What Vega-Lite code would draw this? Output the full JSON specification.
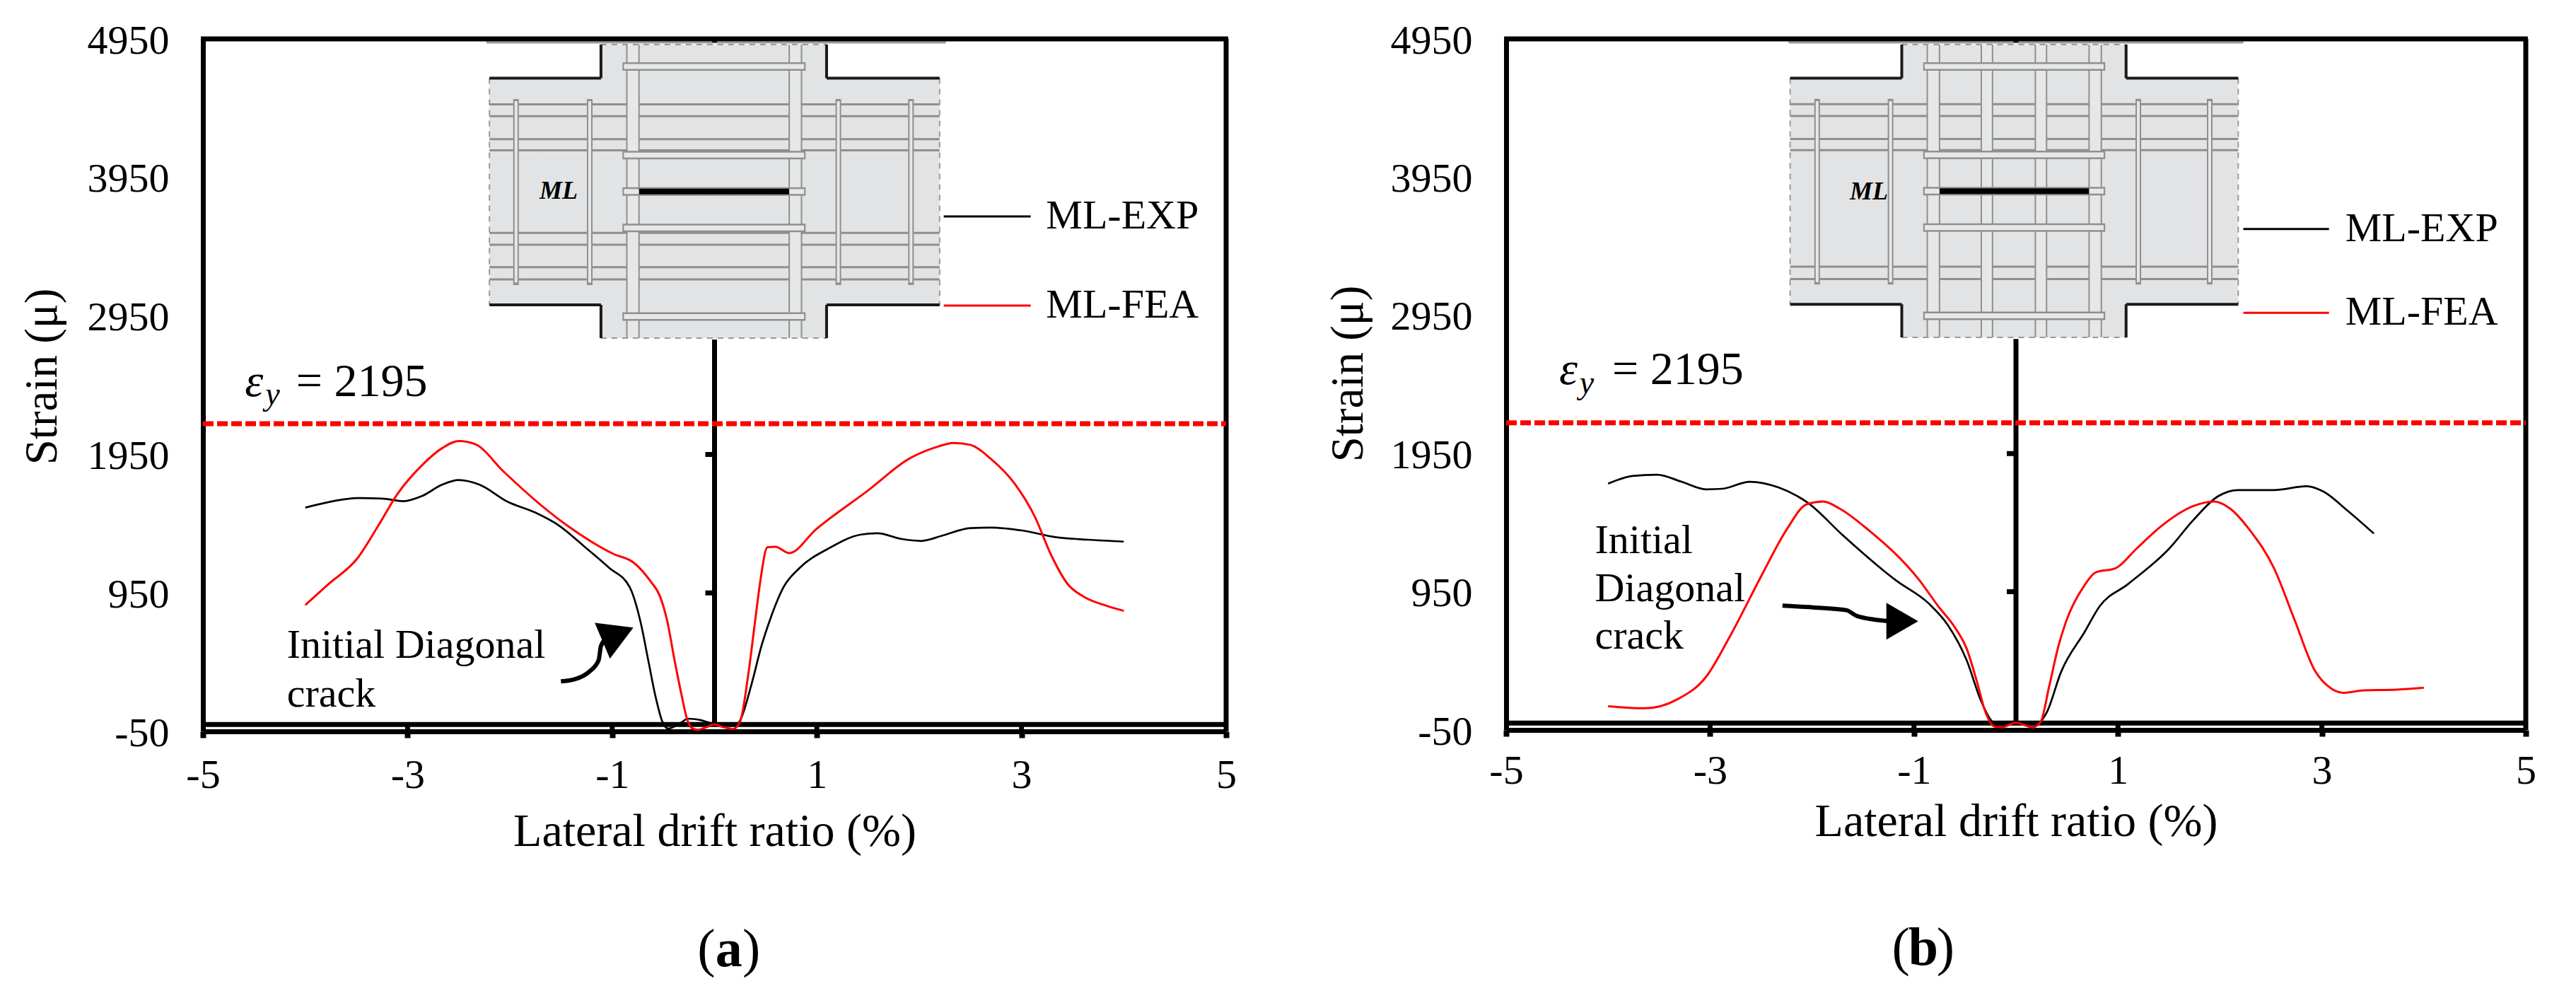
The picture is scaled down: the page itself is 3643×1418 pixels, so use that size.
{
"$schema":"https://vega.github.io/schema/vega-lite/v6.json",
"padding":{"left":27,"top":29,"right":0,"bottom":0},
"background":"white",
"config":{"view":{"stroke":null},"font":"Liberation Serif","axis":{"labelFont":"Liberation Serif","titleFont":"Liberation Serif","labelColor":"black","titleColor":"black","grid":false,"domainColor":"black","tickColor":"black"}},
"datasets":{
"curves":[
{"panel":"a","series":"ML-EXP","x":-4,"y":1566},{"panel":"a","series":"ML-EXP","x":-3.73,"y":1612},{"panel":"a","series":"ML-EXP","x":-3.49,"y":1635},{"panel":"a","series":"ML-EXP","x":-3.25,"y":1631},{"panel":"a","series":"ML-EXP","x":-3.04,"y":1612},{"panel":"a","series":"ML-EXP","x":-2.86,"y":1649},{"panel":"a","series":"ML-EXP","x":-2.66,"y":1732},{"panel":"a","series":"ML-EXP","x":-2.5,"y":1765},{"panel":"a","series":"ML-EXP","x":-2.3,"y":1732},{"panel":"a","series":"ML-EXP","x":-2.02,"y":1607},{"panel":"a","series":"ML-EXP","x":-1.75,"y":1529},{"panel":"a","series":"ML-EXP","x":-1.51,"y":1431},{"panel":"a","series":"ML-EXP","x":-1.27,"y":1283},{"panel":"a","series":"ML-EXP","x":-1.03,"y":1131},{"panel":"a","series":"ML-EXP","x":-0.83,"y":992},{"panel":"a","series":"ML-EXP","x":-0.717,"y":720},{"panel":"a","series":"ML-EXP","x":-0.648,"y":464},{"panel":"a","series":"ML-EXP","x":-0.579,"y":209},{"panel":"a","series":"ML-EXP","x":-0.51,"y":21},{"panel":"a","series":"ML-EXP","x":-0.453,"y":-30},{"panel":"a","series":"ML-EXP","x":-0.328,"y":13},{"panel":"a","series":"ML-EXP","x":-0.259,"y":42},{"panel":"a","series":"ML-EXP","x":-0.142,"y":32},{"panel":"a","series":"ML-EXP","x":-0.017,"y":6},{"panel":"a","series":"ML-EXP","x":0.1,"y":-5},{"panel":"a","series":"ML-EXP","x":0.2,"y":-10},{"panel":"a","series":"ML-EXP","x":0.25,"y":30},{"panel":"a","series":"ML-EXP","x":0.363,"y":294},{"panel":"a","series":"ML-EXP","x":0.459,"y":568},{"panel":"a","series":"ML-EXP","x":0.549,"y":770},{"panel":"a","series":"ML-EXP","x":0.675,"y":992},{"panel":"a","series":"ML-EXP","x":0.833,"y":1131},{"panel":"a","series":"ML-EXP","x":1.11,"y":1269},{"panel":"a","series":"ML-EXP","x":1.43,"y":1371},{"panel":"a","series":"ML-EXP","x":1.59,"y":1381},{"panel":"a","series":"ML-EXP","x":1.83,"y":1339},{"panel":"a","series":"ML-EXP","x":2.02,"y":1325},{"panel":"a","series":"ML-EXP","x":2.22,"y":1362},{"panel":"a","series":"ML-EXP","x":2.5,"y":1418},{"panel":"a","series":"ML-EXP","x":2.7,"y":1422},{"panel":"a","series":"ML-EXP","x":3.02,"y":1399},{"panel":"a","series":"ML-EXP","x":3.33,"y":1353},{"panel":"a","series":"ML-EXP","x":3.65,"y":1334},{"panel":"a","series":"ML-EXP","x":4,"y":1320},
{"panel":"a","series":"ML-FEA","x":-4,"y":862},{"panel":"a","series":"ML-FEA","x":-3.77,"y":1015},{"panel":"a","series":"ML-FEA","x":-3.49,"y":1200},{"panel":"a","series":"ML-FEA","x":-3.29,"y":1431},{"panel":"a","series":"ML-FEA","x":-3.1,"y":1663},{"panel":"a","series":"ML-FEA","x":-2.86,"y":1871},{"panel":"a","series":"ML-FEA","x":-2.66,"y":1996},{"panel":"a","series":"ML-FEA","x":-2.5,"y":2047},{"panel":"a","series":"ML-FEA","x":-2.34,"y":2024},{"panel":"a","series":"ML-FEA","x":-2.06,"y":1825},{"panel":"a","series":"ML-FEA","x":-1.75,"y":1617},{"panel":"a","series":"ML-FEA","x":-1.43,"y":1431},{"panel":"a","series":"ML-FEA","x":-0.99,"y":1232},{"panel":"a","series":"ML-FEA","x":-0.79,"y":1168},{"panel":"a","series":"ML-FEA","x":-0.63,"y":1038},{"panel":"a","series":"ML-FEA","x":-0.533,"y":925},{"panel":"a","series":"ML-FEA","x":-0.464,"y":753},{"panel":"a","series":"ML-FEA","x":-0.395,"y":481},{"panel":"a","series":"ML-FEA","x":-0.326,"y":226},{"panel":"a","series":"ML-FEA","x":-0.268,"y":38},{"panel":"a","series":"ML-FEA","x":-0.224,"y":-25},{"panel":"a","series":"ML-FEA","x":-0.165,"y":-38},{"panel":"a","series":"ML-FEA","x":-0.08,"y":-20},{"panel":"a","series":"ML-FEA","x":-0.003,"y":1},{"panel":"a","series":"ML-FEA","x":0.09,"y":-20},{"panel":"a","series":"ML-FEA","x":0.181,"y":-33},{"panel":"a","series":"ML-FEA","x":0.25,"y":21},{"panel":"a","series":"ML-FEA","x":0.33,"y":362},{"panel":"a","series":"ML-FEA","x":0.389,"y":702},{"panel":"a","series":"ML-FEA","x":0.446,"y":1028},{"panel":"a","series":"ML-FEA","x":0.516,"y":1279},{"panel":"a","series":"ML-FEA","x":0.595,"y":1283},{"panel":"a","series":"ML-FEA","x":0.73,"y":1237},{"panel":"a","series":"ML-FEA","x":0.99,"y":1408},{"panel":"a","series":"ML-FEA","x":1.51,"y":1695},{"panel":"a","series":"ML-FEA","x":1.9,"y":1918},{"panel":"a","series":"ML-FEA","x":2.14,"y":1996},{"panel":"a","series":"ML-FEA","x":2.34,"y":2033},{"panel":"a","series":"ML-FEA","x":2.5,"y":2019},{"panel":"a","series":"ML-FEA","x":2.7,"y":1918},{"panel":"a","series":"ML-FEA","x":2.94,"y":1732},{"panel":"a","series":"ML-FEA","x":3.13,"y":1501},{"panel":"a","series":"ML-FEA","x":3.29,"y":1223},{"panel":"a","series":"ML-FEA","x":3.45,"y":1015},{"panel":"a","series":"ML-FEA","x":3.61,"y":922},{"panel":"a","series":"ML-FEA","x":3.81,"y":862},{"panel":"a","series":"ML-FEA","x":4,"y":820},
{"panel":"a","series":"arrow","x":-1.501,"y":311},{"panel":"a","series":"arrow","x":-1.363,"y":327},{"panel":"a","series":"arrow","x":-1.228,"y":379},{"panel":"a","series":"arrow","x":-1.133,"y":464},{"panel":"a","series":"arrow","x":-1.11,"y":566},{"panel":"a","series":"arrow","x":-1.052,"y":625},
{"panel":"b","series":"ML-EXP","x":-4,"y":1732},{"panel":"b","series":"ML-EXP","x":-3.76,"y":1788},{"panel":"b","series":"ML-EXP","x":-3.52,"y":1797},{"panel":"b","series":"ML-EXP","x":-3.28,"y":1746},{"panel":"b","series":"ML-EXP","x":-3.04,"y":1691},{"panel":"b","series":"ML-EXP","x":-2.88,"y":1695},{"panel":"b","series":"ML-EXP","x":-2.61,"y":1746},{"panel":"b","series":"ML-EXP","x":-2.33,"y":1705},{"panel":"b","series":"ML-EXP","x":-2.05,"y":1598},{"panel":"b","series":"ML-EXP","x":-1.69,"y":1353},{"panel":"b","series":"ML-EXP","x":-1.29,"y":1098},{"panel":"b","series":"ML-EXP","x":-1.178,"y":1033},{"panel":"b","series":"ML-EXP","x":-0.854,"y":864},{"panel":"b","series":"ML-EXP","x":-0.669,"y":710},{"panel":"b","series":"ML-EXP","x":-0.484,"y":455},{"panel":"b","series":"ML-EXP","x":-0.345,"y":165},{"panel":"b","series":"ML-EXP","x":-0.252,"y":28},{"panel":"b","series":"ML-EXP","x":-0.15,"y":-25},{"panel":"b","series":"ML-EXP","x":0,"y":3},{"panel":"b","series":"ML-EXP","x":0.16,"y":-28},{"panel":"b","series":"ML-EXP","x":0.243,"y":11},{"panel":"b","series":"ML-EXP","x":0.303,"y":79},{"panel":"b","series":"ML-EXP","x":0.442,"y":369},{"panel":"b","series":"ML-EXP","x":0.674,"y":660},{"panel":"b","series":"ML-EXP","x":0.82,"y":844},{"panel":"b","series":"ML-EXP","x":1.1,"y":1006},{"panel":"b","series":"ML-EXP","x":1.5,"y":1260},{"panel":"b","series":"ML-EXP","x":1.74,"y":1469},{"panel":"b","series":"ML-EXP","x":1.98,"y":1640},{"panel":"b","series":"ML-EXP","x":2.18,"y":1686},{"panel":"b","series":"ML-EXP","x":2.53,"y":1686},{"panel":"b","series":"ML-EXP","x":2.85,"y":1714},{"panel":"b","series":"ML-EXP","x":3.01,"y":1677},{"panel":"b","series":"ML-EXP","x":3.25,"y":1538},{"panel":"b","series":"ML-EXP","x":3.51,"y":1371},
{"panel":"b","series":"ML-FEA","x":-4,"y":121},{"panel":"b","series":"ML-FEA","x":-3.64,"y":107},{"panel":"b","series":"ML-FEA","x":-3.32,"y":172},{"panel":"b","series":"ML-FEA","x":-3.04,"y":334},{"panel":"b","series":"ML-FEA","x":-2.8,"y":635},{"panel":"b","series":"ML-FEA","x":-2.49,"y":1075},{"panel":"b","series":"ML-FEA","x":-2.25,"y":1399},{"panel":"b","series":"ML-FEA","x":-2.05,"y":1584},{"panel":"b","series":"ML-FEA","x":-1.89,"y":1603},{"panel":"b","series":"ML-FEA","x":-1.73,"y":1552},{"panel":"b","series":"ML-FEA","x":-1.45,"y":1399},{"panel":"b","series":"ML-FEA","x":-0.947,"y":1033},{"panel":"b","series":"ML-FEA","x":-0.762,"y":845},{"panel":"b","series":"ML-FEA","x":-0.599,"y":692},{"panel":"b","series":"ML-FEA","x":-0.484,"y":539},{"panel":"b","series":"ML-FEA","x":-0.39,"y":318},{"panel":"b","series":"ML-FEA","x":-0.299,"y":79},{"panel":"b","series":"ML-FEA","x":-0.208,"y":-26},{"panel":"b","series":"ML-FEA","x":-0.139,"y":-30},{"panel":"b","series":"ML-FEA","x":0,"y":3},{"panel":"b","series":"ML-FEA","x":0.164,"y":-30},{"panel":"b","series":"ML-FEA","x":0.243,"y":11},{"panel":"b","series":"ML-FEA","x":0.326,"y":267},{"panel":"b","series":"ML-FEA","x":0.417,"y":558},{"panel":"b","series":"ML-FEA","x":0.487,"y":726},{"panel":"b","series":"ML-FEA","x":0.674,"y":999},{"panel":"b","series":"ML-FEA","x":0.78,"y":1089},{"panel":"b","series":"ML-FEA","x":0.98,"y":1121},{"panel":"b","series":"ML-FEA","x":1.18,"y":1260},{"panel":"b","series":"ML-FEA","x":1.42,"y":1422},{"panel":"b","series":"ML-FEA","x":1.74,"y":1570},{"panel":"b","series":"ML-FEA","x":1.94,"y":1603},{"panel":"b","series":"ML-FEA","x":2.1,"y":1552},{"panel":"b","series":"ML-FEA","x":2.29,"y":1399},{"panel":"b","series":"ML-FEA","x":2.53,"y":1121},{"panel":"b","series":"ML-FEA","x":2.73,"y":751},{"panel":"b","series":"ML-FEA","x":2.93,"y":381},{"panel":"b","series":"ML-FEA","x":3.09,"y":251},{"panel":"b","series":"ML-FEA","x":3.21,"y":219},{"panel":"b","series":"ML-FEA","x":3.41,"y":237},{"panel":"b","series":"ML-FEA","x":3.73,"y":242},{"panel":"b","series":"ML-FEA","x":4,"y":256},
{"panel":"b","series":"arrow","x":-2.29,"y":849},{"panel":"b","series":"arrow","x":-1.99,"y":837},{"panel":"b","series":"arrow","x":-1.664,"y":817},{"panel":"b","series":"arrow","x":-1.56,"y":775},{"panel":"b","series":"arrow","x":-1.224,"y":736}
],
"segsA":[
{"kind":"cross","x":-2.2,"x2":2.2,"y":4666,"y2":3030},{"kind":"cross","x":-1.11,"x2":1.095,"y":4909,"y2":2790},
{"kind":"gray","x":-2.23,"x2":2.26,"y":4925,"y2":4925},
{"kind":"bar","x":-2.2,"x2":2.2,"y":4478,"y2":4478},{"kind":"bar","x":-2.2,"x2":2.2,"y":4392,"y2":4392},{"kind":"bar","x":-2.2,"x2":2.2,"y":4226,"y2":4226},{"kind":"bar","x":-2.2,"x2":2.2,"y":4145,"y2":4145},{"kind":"bar","x":-2.2,"x2":2.2,"y":3549,"y2":3549},{"kind":"bar","x":-2.2,"x2":2.2,"y":3464,"y2":3464},{"kind":"bar","x":-2.2,"x2":2.2,"y":3302,"y2":3302},{"kind":"bar","x":-2.2,"x2":2.2,"y":3213,"y2":3213},
{"kind":"stirO","x":-1.94,"x2":-1.94,"y":4516,"y2":3173},{"kind":"stirI","x":-1.94,"x2":-1.94,"y":4500,"y2":3190},{"kind":"stirO","x":-1.22,"x2":-1.22,"y":4516,"y2":3173},{"kind":"stirI","x":-1.22,"x2":-1.22,"y":4500,"y2":3190},{"kind":"stirO","x":1.21,"x2":1.21,"y":4516,"y2":3173},{"kind":"stirI","x":1.21,"x2":1.21,"y":4500,"y2":3190},{"kind":"stirO","x":1.92,"x2":1.92,"y":4516,"y2":3173},{"kind":"stirI","x":1.92,"x2":1.92,"y":4500,"y2":3190},
{"kind":"railFill","x":-0.797,"x2":-0.797,"y":4909,"y2":2790},{"kind":"railFill","x":0.79,"x2":0.79,"y":4909,"y2":2790},
{"kind":"rail","x":-0.857,"x2":-0.857,"y":4909,"y2":2790},{"kind":"rail","x":-0.738,"x2":-0.738,"y":4909,"y2":2790},{"kind":"rail","x":0.73,"x2":0.73,"y":4909,"y2":2790},{"kind":"rail","x":0.85,"x2":0.85,"y":4909,"y2":2790},
{"kind":"shortO","x":-0.9,"x2":0.89,"y":4751,"y2":4751},{"kind":"shortI","x":-0.885,"x2":0.875,"y":4751,"y2":4751},{"kind":"shortO","x":-0.9,"x2":0.89,"y":4111,"y2":4111},{"kind":"shortI","x":-0.885,"x2":0.875,"y":4111,"y2":4111},{"kind":"shortO","x":-0.9,"x2":0.89,"y":3848,"y2":3848},{"kind":"shortI","x":-0.885,"x2":0.875,"y":3848,"y2":3848},{"kind":"shortO","x":-0.9,"x2":0.89,"y":3585,"y2":3585},{"kind":"shortI","x":-0.885,"x2":0.875,"y":3585,"y2":3585},{"kind":"shortO","x":-0.9,"x2":0.89,"y":2946,"y2":2946},{"kind":"shortI","x":-0.885,"x2":0.875,"y":2946,"y2":2946},
{"kind":"sensor","x":-0.738,"x2":0.73,"y":3848,"y2":3848},
{"kind":"edge","x":-2.2,"x2":-2.2,"y":4666,"y2":3030},{"kind":"edge","x":2.2,"x2":2.2,"y":4666,"y2":3030},{"kind":"edge","x":-1.11,"x2":1.095,"y":4909,"y2":4909},{"kind":"edge","x":-1.11,"x2":1.095,"y":2790,"y2":2790},
{"kind":"outline","x":-2.2,"x2":-1.11,"y":4666,"y2":4666},{"kind":"outline","x":-1.11,"x2":-1.11,"y":4666,"y2":4909},{"kind":"outline","x":1.095,"x2":2.2,"y":4666,"y2":4666},{"kind":"outline","x":1.095,"x2":1.095,"y":4666,"y2":4909},{"kind":"outline","x":-2.2,"x2":-1.11,"y":3030,"y2":3030},{"kind":"outline","x":-1.11,"x2":-1.11,"y":3030,"y2":2790},{"kind":"outline","x":1.095,"x2":2.2,"y":3030,"y2":3030},{"kind":"outline","x":1.095,"x2":1.095,"y":3030,"y2":2790},
{"kind":"frame","x":-5.02,"x2":5.02,"y":4950,"y2":4950},{"kind":"frame","x":5,"x2":5,"y":4950,"y2":-50},{"kind":"frame","x":-5,"x2":5,"y":0,"y2":0},{"kind":"frame","x":0,"x2":0,"y":0,"y2":2779},{"kind":"frame","x":0,"x2":0,"y":4950,"y2":4925},{"kind":"frame","x":-0.09,"x2":0,"y":1950,"y2":1950},{"kind":"frame","x":-0.09,"x2":0,"y":950,"y2":950},
{"kind":"frame","x":-3,"x2":-3,"y":0,"y2":-50},{"kind":"frame","x":-1,"x2":-1,"y":0,"y2":-50},{"kind":"frame","x":1,"x2":1,"y":0,"y2":-50},{"kind":"frame","x":3,"x2":3,"y":0,"y2":-50},
{"kind":"yield","x":-5,"x2":5,"y":2172,"y2":2172},
{"kind":"legK","x":2.24,"x2":3.09,"y":3668,"y2":3668},{"kind":"legR","x":2.24,"x2":3.09,"y":3024,"y2":3024}
],
"segsB":[
{"kind":"cross","x":-2.215,"x2":2.18,"y":4666,"y2":3030},{"kind":"cross","x":-1.12,"x2":1.08,"y":4909,"y2":2790},
{"kind":"gray","x":-2.23,"x2":2.23,"y":4925,"y2":4925},
{"kind":"bar","x":-2.215,"x2":2.18,"y":4478,"y2":4478},{"kind":"bar","x":-2.215,"x2":2.18,"y":4392,"y2":4392},{"kind":"bar","x":-2.215,"x2":2.18,"y":4226,"y2":4226},{"kind":"bar","x":-2.215,"x2":2.18,"y":4145,"y2":4145},{"kind":"bar","x":-2.215,"x2":2.18,"y":3302,"y2":3302},{"kind":"bar","x":-2.215,"x2":2.18,"y":3213,"y2":3213},
{"kind":"stirO","x":-1.95,"x2":-1.95,"y":4516,"y2":3173},{"kind":"stirI","x":-1.95,"x2":-1.95,"y":4500,"y2":3190},{"kind":"stirO","x":-1.23,"x2":-1.23,"y":4516,"y2":3173},{"kind":"stirI","x":-1.23,"x2":-1.23,"y":4500,"y2":3190},{"kind":"stirO","x":1.2,"x2":1.2,"y":4516,"y2":3173},{"kind":"stirI","x":1.2,"x2":1.2,"y":4500,"y2":3190},{"kind":"stirO","x":1.9,"x2":1.9,"y":4516,"y2":3173},{"kind":"stirI","x":1.9,"x2":1.9,"y":4500,"y2":3190},
{"kind":"railFill","x":-0.81,"x2":-0.81,"y":4909,"y2":2790},{"kind":"railFill","x":0.777,"x2":0.777,"y":4909,"y2":2790},{"kind":"railFill","x":-0.285,"x2":-0.285,"y":4909,"y2":2790},{"kind":"railFill","x":0.245,"x2":0.245,"y":4909,"y2":2790},
{"kind":"rail","x":-0.87,"x2":-0.87,"y":4909,"y2":2790},{"kind":"rail","x":-0.75,"x2":-0.75,"y":4909,"y2":2790},{"kind":"rail","x":0.717,"x2":0.717,"y":4909,"y2":2790},{"kind":"rail","x":0.837,"x2":0.837,"y":4909,"y2":2790},{"kind":"rail","x":-0.34,"x2":-0.34,"y":4909,"y2":2790},{"kind":"rail","x":-0.23,"x2":-0.23,"y":4909,"y2":2790},{"kind":"rail","x":0.19,"x2":0.19,"y":4909,"y2":2790},{"kind":"rail","x":0.3,"x2":0.3,"y":4909,"y2":2790},
{"kind":"shortO","x":-0.91,"x2":0.875,"y":4751,"y2":4751},{"kind":"shortI","x":-0.895,"x2":0.86,"y":4751,"y2":4751},{"kind":"shortO","x":-0.91,"x2":0.875,"y":4111,"y2":4111},{"kind":"shortI","x":-0.895,"x2":0.86,"y":4111,"y2":4111},{"kind":"shortO","x":-0.91,"x2":0.875,"y":3848,"y2":3848},{"kind":"shortI","x":-0.895,"x2":0.86,"y":3848,"y2":3848},{"kind":"shortO","x":-0.91,"x2":0.875,"y":3585,"y2":3585},{"kind":"shortI","x":-0.895,"x2":0.86,"y":3585,"y2":3585},{"kind":"shortO","x":-0.91,"x2":0.875,"y":2946,"y2":2946},{"kind":"shortI","x":-0.895,"x2":0.86,"y":2946,"y2":2946},
{"kind":"sensor","x":-0.75,"x2":0.717,"y":3848,"y2":3848},
{"kind":"edge","x":-2.215,"x2":-2.215,"y":4666,"y2":3030},{"kind":"edge","x":2.18,"x2":2.18,"y":4666,"y2":3030},{"kind":"edge","x":-1.12,"x2":1.08,"y":4909,"y2":4909},{"kind":"edge","x":-1.12,"x2":1.08,"y":2790,"y2":2790},
{"kind":"outline","x":-2.215,"x2":-1.12,"y":4666,"y2":4666},{"kind":"outline","x":-1.12,"x2":-1.12,"y":4666,"y2":4909},{"kind":"outline","x":1.08,"x2":2.18,"y":4666,"y2":4666},{"kind":"outline","x":1.08,"x2":1.08,"y":4666,"y2":4909},{"kind":"outline","x":-2.215,"x2":-1.12,"y":3030,"y2":3030},{"kind":"outline","x":-1.12,"x2":-1.12,"y":3030,"y2":2790},{"kind":"outline","x":1.08,"x2":2.18,"y":3030,"y2":3030},{"kind":"outline","x":1.08,"x2":1.08,"y":3030,"y2":2790},
{"kind":"frame","x":-5.02,"x2":5.02,"y":4950,"y2":4950},{"kind":"frame","x":5,"x2":5,"y":4950,"y2":-50},{"kind":"frame","x":-5,"x2":5,"y":0,"y2":0},{"kind":"frame","x":0,"x2":0,"y":0,"y2":2779},{"kind":"frame","x":0,"x2":0,"y":4950,"y2":4925},{"kind":"frame","x":-0.09,"x2":0,"y":1950,"y2":1950},{"kind":"frame","x":-0.09,"x2":0,"y":950,"y2":950},
{"kind":"frame","x":-3,"x2":-3,"y":0,"y2":-50},{"kind":"frame","x":-1,"x2":-1,"y":0,"y2":-50},{"kind":"frame","x":1,"x2":1,"y":0,"y2":-50},{"kind":"frame","x":3,"x2":3,"y":0,"y2":-50},
{"kind":"yield","x":-5,"x2":5,"y":2172,"y2":2172},
{"kind":"legK","x":2.23,"x2":3.07,"y":3575,"y2":3575},{"kind":"legR","x":2.23,"x2":3.07,"y":2968,"y2":2968}
],
"textsA":[
{"style":"plain","x":-4.18,"y":566,"label":"Initial Diagonal"},{"style":"plain","x":-4.18,"y":218,"label":"crack"},{"style":"plain","x":3.24,"y":3668,"label":"ML-EXP"},{"style":"plain","x":3.24,"y":3024,"label":"ML-FEA"},{"style":"eq","x":-4.09,"y":2473,"label":"= 2195"},
{"style":"italic","x":-4.59,"y":2473,"label":"ε"},{"style":"sub","x":-4.39,"y":2380,"label":"y"},{"style":"ml","x":-1.71,"y":3853,"label":"ML"},
{"style":"paren","x":-0.08,"y":-1630,"label":"("},{"style":"bold","x":0.14,"y":-1630,"label":"a"},{"style":"paren","x":0.36,"y":-1630,"label":")"}
],
"textsB":[
{"style":"plain","x":-4.13,"y":1316,"label":"Initial"},{"style":"plain","x":-4.13,"y":969,"label":"Diagonal"},{"style":"plain","x":-4.13,"y":626,"label":"crack"},{"style":"plain","x":3.23,"y":3575,"label":"ML-EXP"},{"style":"plain","x":3.23,"y":2968,"label":"ML-FEA"},{"style":"eq","x":-3.96,"y":2555,"label":"= 2195"},
{"style":"italic","x":-4.48,"y":2555,"label":"ε"},{"style":"sub","x":-4.28,"y":2460,"label":"y"},{"style":"ml","x":-1.63,"y":3843,"label":"ML"},
{"style":"paren","x":-1.13,"y":-1630,"label":"("},{"style":"bold","x":-0.91,"y":-1630,"label":"b"},{"style":"paren","x":-0.69,"y":-1630,"label":")"}
]
},
"spacing":125,
"hconcat":[
{"width":1447,"height":979,
"resolve":{"scale":{"color":"independent","size":"independent"}},
"encoding":{
"x":{"field":"x","type":"quantitative","scale":{"domain":[-5,5],"nice":false},"axis":{"values":[-5,-3,-1,1,3,5],"labelExpr":"'' + datum.value","title":"Lateral drift ratio (%)","titleFontSize":66,"titleFontWeight":"normal","titlePadding":18,"labelFontSize":58,"labelPadding":24,"tickSize":9,"tickWidth":8,"domainWidth":7,"labelFlush":false,"labelOverlap":false}},
"y":{"field":"y","type":"quantitative","scale":{"domain":[-50,4950],"nice":false,"zero":false},"axis":{"values":[-50,950,1950,2950,3950,4950],"labelExpr":"'' + datum.value","title":"Strain (μ)","titleFontSize":65,"titleFontWeight":"normal","titlePadding":30,"titleY":477,"labelFontSize":58,"labelPadding":48,"labelOffset":3,"ticks":false,"domainWidth":7,"labelFlush":false,"labelOverlap":false}}
},
"layer":[
{"data":{"name":"segsA"},"transform":[{"filter":"datum.kind == 'cross'"}],"mark":{"type":"rect","color":"#e2e3e4"},"encoding":{"x2":{"field":"x2"},"y2":{"field":"y2"}}},
{"data":{"name":"segsA"},"transform":[{"filter":"datum.kind != 'cross'"}],"mark":{"type":"rule"},"encoding":{"x2":{"field":"x2"},"y2":{"field":"y2"},
"color":{"field":"kind","type":"nominal","legend":null,"scale":{"domain":["gray","bar","stirO","stirI","railFill","rail","shortO","shortI","sensor","edge","outline","frame","yield","legK","legR"],"range":["#999999","#8f8f8f","#8f8f8f","#e6e7e8","#e6e7e8","#8f8f8f","#8f8f8f","#e6e7e8","#000000","#9a9a9a","#1a1a1a","#000000","#ff0000","#000000","#ff0000"]}},
"size":{"field":"kind","type":"nominal","legend":null,"scale":{"type":"ordinal","domain":["gray","bar","stirO","stirI","railFill","rail","shortO","shortI","sensor","edge","outline","frame","yield","legK","legR"],"range":[3,3,8,4,16,2,12,7,8,2,4,7,7,3,3]}},
"strokeDash":{"field":"kind","type":"nominal","legend":null,"scale":{"domain":["gray","bar","stirO","stirI","railFill","rail","shortO","shortI","sensor","edge","outline","frame","yield","legK","legR"],"range":[[1,0],[1,0],[1,0],[1,0],[1,0],[1,0],[1,0],[1,0],[1,0],[8,7],[1,0],[1,0],[15,5],[1,0],[1,0]]}}}},
{"data":{"name":"curves"},"transform":[{"filter":"datum.panel == 'a'"}],"mark":{"type":"line","interpolate":"monotone"},"encoding":{"color":{"field":"series","type":"nominal","legend":null,"scale":{"domain":["ML-EXP","ML-FEA","arrow"],"range":["#000000","#ff0000","#000000"]}},"size":{"field":"series","type":"nominal","legend":null,"scale":{"type":"ordinal","domain":["ML-EXP","ML-FEA","arrow"],"range":[2.7,3,6]}}}},
{"data":{"values":[{"x":-0.945,"y":652}]},"mark":{"type":"point","shape":"triangle-up","filled":true,"color":"black","opacity":1,"size":3025,"angle":67}},
{"data":{"name":"textsA"},"transform":[{"filter":"datum.style == 'plain'"}],"mark":{"type":"text","align":"left","baseline":"middle","font":"Liberation Serif","fontSize":58,"color":"black"},"encoding":{"text":{"field":"label"}}},
{"data":{"name":"textsA"},"transform":[{"filter":"datum.style == 'eq'"}],"mark":{"type":"text","align":"left","baseline":"middle","font":"Liberation Serif","fontSize":66,"color":"black"},"encoding":{"text":{"field":"label"}}},
{"data":{"name":"textsA"},"transform":[{"filter":"datum.style == 'paren'"}],"mark":{"type":"text","align":"center","baseline":"middle","font":"Liberation Serif","fontSize":76,"color":"black"},"encoding":{"text":{"field":"label"}}},
{"data":{"name":"textsA"},"transform":[{"filter":"datum.style == 'italic'"}],"mark":{"type":"text","align":"left","baseline":"middle","font":"Liberation Serif","fontStyle":"italic","fontSize":66,"color":"black"},"encoding":{"text":{"field":"label"}}},
{"data":{"name":"textsA"},"transform":[{"filter":"datum.style == 'sub'"}],"mark":{"type":"text","align":"left","baseline":"middle","font":"Liberation Serif","fontStyle":"italic","fontSize":46,"color":"black"},"encoding":{"text":{"field":"label"}}},
{"data":{"name":"textsA"},"transform":[{"filter":"datum.style == 'ml'"}],"mark":{"type":"text","align":"left","baseline":"middle","font":"Liberation Serif","fontStyle":"italic","fontWeight":"bold","fontSize":36,"color":"black"},"encoding":{"text":{"field":"label"}}},
{"data":{"name":"textsA"},"transform":[{"filter":"datum.style == 'bold'"}],"mark":{"type":"text","align":"center","baseline":"middle","font":"Liberation Serif","fontWeight":"bold","fontSize":76,"color":"black"},"encoding":{"text":{"field":"label"}}}
]},
{"width":1442,"height":977,
"resolve":{"scale":{"color":"independent","size":"independent"}},
"encoding":{
"x":{"field":"x","type":"quantitative","scale":{"domain":[-5,5],"nice":false},"axis":{"values":[-5,-3,-1,1,3,5],"labelExpr":"'' + datum.value","title":"Lateral drift ratio (%)","titleFontSize":66,"titleFontWeight":"normal","titlePadding":10,"labelFontSize":58,"labelPadding":20,"tickSize":9,"tickWidth":8,"domainWidth":7,"labelFlush":false,"labelOverlap":false}},
"y":{"field":"y","type":"quantitative","scale":{"domain":[-50,4950],"nice":false,"zero":false},"axis":{"values":[-50,950,1950,2950,3950,4950],"labelExpr":"'' + datum.value","title":"Strain (μ)","titleFontSize":65,"titleFontWeight":"normal","titlePadding":26,"titleY":473,"labelFontSize":58,"labelPadding":48,"labelOffset":3,"ticks":false,"domainWidth":7,"labelFlush":false,"labelOverlap":false}}
},
"layer":[
{"data":{"name":"segsB"},"transform":[{"filter":"datum.kind == 'cross'"}],"mark":{"type":"rect","color":"#e2e3e4"},"encoding":{"x2":{"field":"x2"},"y2":{"field":"y2"}}},
{"data":{"name":"segsB"},"transform":[{"filter":"datum.kind != 'cross'"}],"mark":{"type":"rule"},"encoding":{"x2":{"field":"x2"},"y2":{"field":"y2"},
"color":{"field":"kind","type":"nominal","legend":null,"scale":{"domain":["gray","bar","stirO","stirI","railFill","rail","shortO","shortI","sensor","edge","outline","frame","yield","legK","legR"],"range":["#999999","#8f8f8f","#8f8f8f","#e6e7e8","#e6e7e8","#8f8f8f","#8f8f8f","#e6e7e8","#000000","#9a9a9a","#1a1a1a","#000000","#ff0000","#000000","#ff0000"]}},
"size":{"field":"kind","type":"nominal","legend":null,"scale":{"type":"ordinal","domain":["gray","bar","stirO","stirI","railFill","rail","shortO","shortI","sensor","edge","outline","frame","yield","legK","legR"],"range":[3,3,8,4,16,2,12,7,8,2,4,7,7,3,3]}},
"strokeDash":{"field":"kind","type":"nominal","legend":null,"scale":{"domain":["gray","bar","stirO","stirI","railFill","rail","shortO","shortI","sensor","edge","outline","frame","yield","legK","legR"],"range":[[1,0],[1,0],[1,0],[1,0],[1,0],[1,0],[1,0],[1,0],[1,0],[8,7],[1,0],[1,0],[15,5],[1,0],[1,0]]}}}},
{"data":{"name":"curves"},"transform":[{"filter":"datum.panel == 'b'"}],"mark":{"type":"line","interpolate":"monotone"},"encoding":{"color":{"field":"series","type":"nominal","legend":null,"scale":{"domain":["ML-EXP","ML-FEA","arrow"],"range":["#000000","#ff0000","#000000"]}},"size":{"field":"series","type":"nominal","legend":null,"scale":{"type":"ordinal","domain":["ML-EXP","ML-FEA","arrow"],"range":[2.7,3,6]}}}},
{"data":{"values":[{"x":-1.115,"y":737}]},"mark":{"type":"point","shape":"triangle-up","filled":true,"color":"black","opacity":1,"size":2700,"angle":90}},
{"data":{"name":"textsB"},"transform":[{"filter":"datum.style == 'plain'"}],"mark":{"type":"text","align":"left","baseline":"middle","font":"Liberation Serif","fontSize":58,"color":"black"},"encoding":{"text":{"field":"label"}}},
{"data":{"name":"textsB"},"transform":[{"filter":"datum.style == 'eq'"}],"mark":{"type":"text","align":"left","baseline":"middle","font":"Liberation Serif","fontSize":66,"color":"black"},"encoding":{"text":{"field":"label"}}},
{"data":{"name":"textsB"},"transform":[{"filter":"datum.style == 'paren'"}],"mark":{"type":"text","align":"center","baseline":"middle","font":"Liberation Serif","fontSize":76,"color":"black"},"encoding":{"text":{"field":"label"}}},
{"data":{"name":"textsB"},"transform":[{"filter":"datum.style == 'italic'"}],"mark":{"type":"text","align":"left","baseline":"middle","font":"Liberation Serif","fontStyle":"italic","fontSize":66,"color":"black"},"encoding":{"text":{"field":"label"}}},
{"data":{"name":"textsB"},"transform":[{"filter":"datum.style == 'sub'"}],"mark":{"type":"text","align":"left","baseline":"middle","font":"Liberation Serif","fontStyle":"italic","fontSize":46,"color":"black"},"encoding":{"text":{"field":"label"}}},
{"data":{"name":"textsB"},"transform":[{"filter":"datum.style == 'ml'"}],"mark":{"type":"text","align":"left","baseline":"middle","font":"Liberation Serif","fontStyle":"italic","fontWeight":"bold","fontSize":36,"color":"black"},"encoding":{"text":{"field":"label"}}},
{"data":{"name":"textsB"},"transform":[{"filter":"datum.style == 'bold'"}],"mark":{"type":"text","align":"center","baseline":"middle","font":"Liberation Serif","fontWeight":"bold","fontSize":76,"color":"black"},"encoding":{"text":{"field":"label"}}}
]}
]
}
